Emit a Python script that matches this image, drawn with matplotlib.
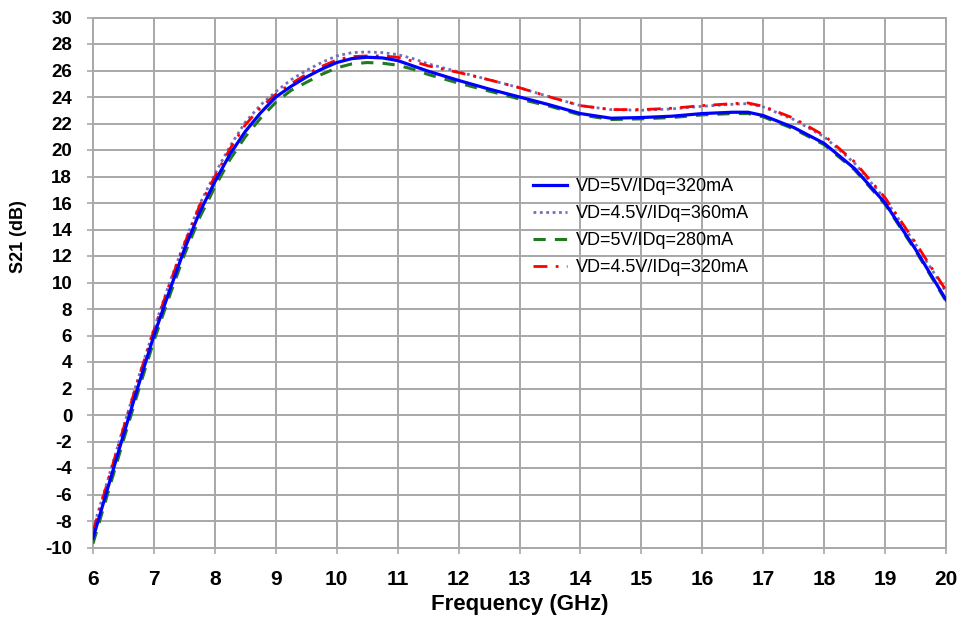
import numpy as np
import matplotlib
matplotlib.use('Agg')
import matplotlib.pyplot as plt

freq = [6, 6.25, 6.5, 6.75, 7, 7.25, 7.5, 7.75, 8, 8.25, 8.5, 8.75, 9, 9.25, 9.5, 9.75,
        10, 10.25, 10.5, 10.75, 11, 11.25, 11.5, 12, 12.5, 13, 13.5, 14, 14.5, 15, 15.5,
        16, 16.5, 16.75, 17, 17.5, 18, 18.5, 19, 19.5, 20]

s21_5v_320 = [-9.3, -5.4, -1.5, 2.3, 6.0, 9.3, 12.5, 15.3, 17.6, 19.7, 21.4, 22.8, 24.0, 24.8,
              25.5, 26.1, 26.6, 26.9, 27.0, 26.95, 26.75, 26.35, 25.95, 25.25, 24.6, 24.0,
              23.4, 22.75, 22.4, 22.45, 22.55, 22.75, 22.85, 22.85, 22.6, 21.7, 20.5, 18.6,
              16.0, 12.5, 8.7]
s21_45v_360 = [-8.6, -4.8, -0.9, 2.9, 6.5, 9.9, 13.0, 15.9, 18.2, 20.3, 22.1, 23.4, 24.4, 25.3,
               26.0, 26.6, 27.1, 27.35, 27.4, 27.35, 27.2, 26.9, 26.5, 25.9, 25.3, 24.7,
               24.0, 23.35, 23.05, 23.0, 23.1, 23.3, 23.45, 23.5, 23.25, 22.3, 21.0, 19.0,
               16.3, 12.9, 9.3]
s21_5v_280 = [-9.7, -5.8, -1.9, 1.9, 5.6, 8.9, 12.1, 14.9, 17.2, 19.3, 21.0, 22.4, 23.6, 24.5,
              25.1, 25.7, 26.2, 26.5, 26.6, 26.55, 26.4, 26.1, 25.7, 25.05, 24.45, 23.85,
              23.3, 22.65, 22.3, 22.35, 22.45, 22.65, 22.75, 22.75, 22.5, 21.6, 20.4, 18.5,
              15.9, 12.4, 8.6]
s21_45v_320 = [-8.8, -4.9, -1.0, 2.8, 6.4, 9.8, 12.9, 15.8, 18.0, 20.1, 21.9, 23.2, 24.2, 25.0,
               25.7, 26.3, 26.8, 27.05, 27.1, 27.1, 27.0, 26.7, 26.35, 25.85, 25.3, 24.7,
               24.0, 23.35, 23.05, 23.05, 23.15, 23.35, 23.5, 23.55, 23.3, 22.4, 21.1, 19.1,
               16.4, 13.0, 9.4]

labels = ['VD=5V/IDq=320mA', 'VD=4.5V/IDq=360mA', 'VD=5V/IDq=280mA', 'VD=4.5V/IDq=320mA']

plt.rcParams['font.family'] = ['Liberation Sans', 'DejaVu Sans']
plt.rcParams['axes.unicode_minus'] = False

fig = plt.figure(figsize=(9.62, 6.26), dpi=100)
ax = fig.add_axes([93/962, 1-547.5/626, 853/962, 530/626])

ax.plot(freq, s21_5v_320, color='#0000ff', lw=2.3, label=labels[0], zorder=5)
ax.plot(freq, s21_45v_360, color='#6f6fbf', lw=2.0, ls=(0, (1, 1.3)), label=labels[1], zorder=4)
ax.plot(freq, s21_5v_280, color='#1f7a1f', lw=2.2, ls=(0, (4, 3)), label=labels[2], zorder=3)
ax.plot(freq, s21_45v_320, color='#ff0000', lw=2.0, ls=(0, (5, 3, 1, 3)), label=labels[3], zorder=4)

ax.set_xlim(6, 20)
ax.set_ylim(-10, 30)
ax.set_xticks(np.arange(6, 21, 1))
ax.set_yticks(np.arange(-10, 31, 2))
ax.grid(True, color='#a8a8a8', lw=1.4)
ax.set_axisbelow(True)
for sp in ax.spines.values():
    sp.set_color('#a8a8a8')
    sp.set_linewidth(1.4)
ax.tick_params(axis='both', color='#a8a8a8', length=4, width=1.2)
ax.tick_params(axis='y', pad=11)
ax.tick_params(axis='x', pad=12)

for t in ax.get_yticklabels():
    t.set_fontsize(13.5)
    t.set_fontweight('bold')
for t in ax.get_xticklabels():
    t.set_fontsize(15)
    t.set_fontweight('bold')

ax.set_xlabel('Frequency (GHz)', fontsize=16, fontweight='bold', labelpad=4)
ax.set_ylabel('S21 (dB)', fontsize=13, fontweight='bold')
ax.yaxis.set_label_coords(-0.077, 0.586)

ax.legend(loc='upper left', bbox_to_anchor=(0.516, 0.697), frameon=False, fontsize=13,
          handlelength=1.9, handletextpad=0.45, labelspacing=0.55, borderaxespad=0,
          borderpad=0)

fig.savefig('out.png', dpi=100)
